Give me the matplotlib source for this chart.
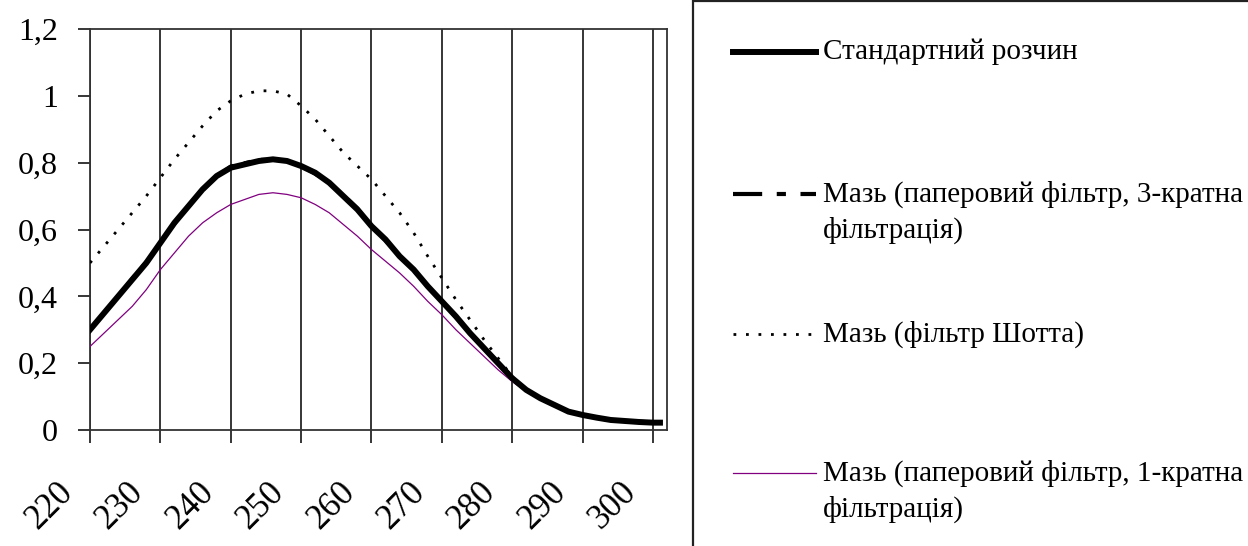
import matplotlib
matplotlib.use('Agg')
import matplotlib.pyplot as plt
from matplotlib.lines import Line2D
from matplotlib.patches import Rectangle
from matplotlib.ticker import FuncFormatter
from matplotlib.transforms import ScaledTranslation

plt.rcParams['font.family'] = ['Liberation Serif', 'DejaVu Serif']

# wavelength, nm
wl = [220, 222, 224, 226, 228, 230, 232, 234, 236, 238, 240, 242, 244, 246, 248,
      250, 252, 254, 256, 258, 260, 262, 264, 266, 268, 270, 272, 274, 276, 278,
      280, 282, 284, 286, 288, 290, 292, 294, 296, 298, 300, 301]

standard = [0.30, 0.35, 0.40, 0.45, 0.50, 0.56, 0.62, 0.67, 0.72, 0.76, 0.785, 0.795,
            0.805, 0.81, 0.805, 0.79, 0.77, 0.74, 0.70, 0.66, 0.61, 0.57, 0.52, 0.48,
            0.43, 0.385, 0.34, 0.29, 0.245, 0.20, 0.155, 0.12, 0.095, 0.075, 0.055,
            0.045, 0.037, 0.030, 0.027, 0.024, 0.022, 0.022]

paper3 = [0.30, 0.35, 0.40, 0.455, 0.505, 0.56, 0.615, 0.67, 0.715, 0.76, 0.79, 0.80,
          0.81, 0.81, 0.80, 0.79, 0.765, 0.74, 0.705, 0.665, 0.61, 0.565, 0.525, 0.475,
          0.43, 0.385, 0.335, 0.29, 0.245, 0.205, 0.16, 0.12, 0.095, 0.073, 0.056,
          0.046, 0.038, 0.031, 0.028, 0.026, 0.025, 0.025]

schott = [0.50, 0.55, 0.60, 0.65, 0.70, 0.755, 0.81, 0.86, 0.91, 0.955, 0.985, 1.005,
          1.015, 1.015, 1.005, 0.97, 0.93, 0.88, 0.83, 0.79, 0.75, 0.70, 0.65, 0.59,
          0.52, 0.455, 0.39, 0.33, 0.27, 0.215, 0.16, 0.12, 0.095, 0.075, 0.055,
          0.045, 0.037, 0.030, 0.027, 0.024, 0.022, 0.022]

paper1 = [0.25, 0.29, 0.33, 0.37, 0.42, 0.48, 0.53, 0.58, 0.62, 0.65, 0.675, 0.69,
          0.705, 0.71, 0.705, 0.695, 0.675, 0.65, 0.615, 0.58, 0.54, 0.505, 0.47, 0.43,
          0.385, 0.345, 0.30, 0.26, 0.22, 0.18, 0.145, 0.115, 0.09, 0.07, 0.052,
          0.04, 0.033, 0.027, 0.024, 0.022, 0.02, 0.02]

labels = ['Стандартний розчин',
          'Мазь (паперовий фільтр, 3-кратна\nфільтрація)',
          'Мазь (фільтр Шотта)',
          'Мазь (паперовий фільтр, 1-кратна\nфільтрація)']

W, H = 1248, 546
fig = plt.figure(figsize=(W / 100, H / 100), dpi=100)
ax = fig.add_axes([90 / W, 1 - 430 / H, (667 - 90) / W, (430 - 29) / H])

dash3 = (0, (7, 3.5, 2.2, 3.5))
dots = (0, (1, 3.5))

ax.plot(wl, paper1, color='#800080', lw=0.9, zorder=3)
ax.plot(wl, schott, color='black', lw=2.0, ls=dots, zorder=3)
ax.plot(wl, paper3, color='black', lw=2.2, ls=dash3, zorder=4)
ax.plot(wl, standard, color='black', lw=4.3, zorder=5)

ax.set_xlim(220, 302)
ax.set_ylim(0, 1.2)
ax.set_xticks(range(220, 301, 10))
ax.set_yticks([0, 0.2, 0.4, 0.6, 0.8, 1.0, 1.2])
ax.yaxis.set_major_formatter(FuncFormatter(lambda v, p: ('%g' % round(v, 1)).replace('.', ',')))
ax.grid(axis='x', color='black', lw=1.1)
for s in ax.spines.values():
    s.set_linewidth(1.3)
    s.set_color('#333333')
ax.tick_params(axis='both', direction='out', length=9, width=1.1, labelsize=23)
ax.tick_params(axis='y', pad=14)
ax.tick_params(axis='x', pad=24, labelsize=25)
shift = ScaledTranslation(-0.10, 0, fig.dpi_scale_trans)
for t in ax.get_xticklabels():
    t.set_rotation(45)
    t.set_ha('right')
    t.set_va('top')
    t.set_transform(t.get_transform() + shift)

# legend box on the right, drawn by hand
fig.patches.append(Rectangle((693 / W, -0.05), 0.5, 1.05 - 1.5 / H, transform=fig.transFigure,
                             fill=False, edgecolor='#222222', lw=1.6))
styles = [dict(color='black', lw=4.3),
          dict(color='black', lw=3.0, ls=dash3),
          dict(color='black', lw=2.0, ls=dots),
          dict(color='#800080', lw=0.9)]
ys = [52, 194, 334, 473]
for lab, st, y in zip(labels, styles, ys):
    fy = 1 - y / H
    fig.lines.append(Line2D([733 / W, 816 / W], [fy, fy], transform=fig.transFigure, **st))
    for i, part in enumerate(lab.split('\n')):
        fig.text(823 / W, 1 - (y + 36 * i) / H, part, fontsize=21, va='center', ha='left')

fig.savefig('out.png', dpi=100)
